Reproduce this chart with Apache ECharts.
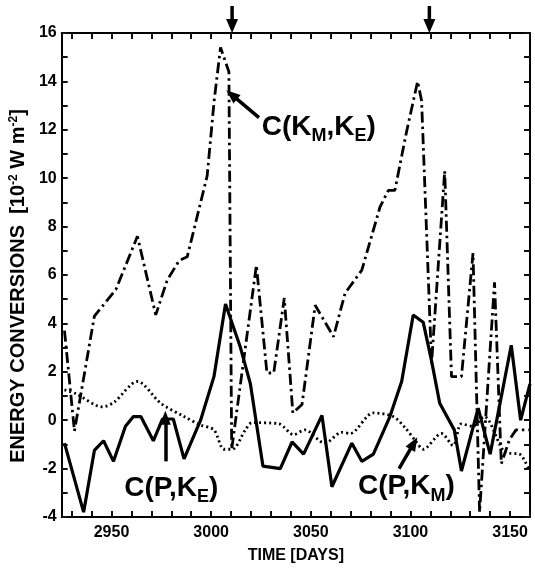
<!DOCTYPE html>
<html>
<head>
<meta charset="utf-8">
<script src="https://cdn.jsdelivr.net/npm/echarts@6/dist/echarts.min.js"></script>
<style>
  html, body { margin: 0; padding: 0; background: #fff; }
  #chart { width: 535px; height: 569px; }
</style>
</head>
<body>
<div id="chart"></div>
<script>
// C(K_M,K_E) - dash-dot curve
var kmkeDays = [2926.4, 2931.4, 2941.4, 2952.2, 2963, 2972.2, 2978, 2984, 2988, 2998, 3001.5, 3004.7, 3008.9, 3010.3,
  3022.7, 3028, 3031.4, 3036.7, 3041, 3045.6, 3052.2, 3061.4, 3067.2, 3075.6, 3084.7, 3088.9, 3092.2, 3098, 3103.6,
  3105.6, 3110.6, 3117.2, 3120.6, 3125.6, 3131.4, 3134.7, 3142.2, 3145.6, 3149.7, 3153, 3159.7];
var kmkeVals = [3.7, -0.45, 4.3, 5.4, 7.6, 4.35, 5.8, 6.6, 6.75, 10.1, 13.2, 15.4, 14.4, -1.2,
  6.4, 1.95, 1.95, 5.05, 0.3, 0.65, 4.75, 3.45, 5.25, 6.2, 8.8, 9.5, 9.5, 11.9, 14.0,
  13.2, 2.35, 10.3, 1.8, 1.8, 6.9, -3.8, 5.7, -1.8, -0.8, -0.4, -0.4];

// C(P,K_E) - solid curve
var pkeDays = [2926.4, 2936, 2941.4, 2946, 2951, 2957, 2961, 2964.7, 2971, 2975.6, 2981, 2986.4, 2994.7, 3001.4,
  3007.2, 3014.7, 3019.7, 3026, 3034.7, 3040.6, 3046.4, 3055.6, 3060.6, 3070.6, 3075.6, 3081.4, 3089.7, 3095.6,
  3101.4, 3106.4, 3110.6, 3114.7, 3122, 3125.6, 3134, 3140, 3150.6, 3155.3, 3160];
var pkeVals = [-0.95, -3.8, -1.25, -0.85, -1.7, -0.25, 0.15, 0.15, -0.85, 0.05, 0.05, -1.6, 0, 1.8,
  4.8, 3.0, 1.5, -1.9, -2.0, -0.9, -1.4, 0.2, -2.75, -0.95, -1.7, -1.4, 0.15, 1.6,
  4.35, 4.05, 2.45, 0.7, -0.4, -2.1, 0.5, -1.4, 3.1, 0, 1.5];

// C(P,K_M) - dotted curve
var pkmDays = [2926.4, 2932, 2945.6, 2951.4, 2963, 2974.7, 2986.4, 2994.7, 3001.4, 3006.4, 3010.6, 3017.2, 3020.6,
  3034, 3041.4, 3047, 3057, 3065.6, 3069.7, 3081.4, 3091.4, 3097.2, 3103, 3106.4, 3115.6, 3121.4, 3125.6,
  3131.4, 3137, 3148, 3154.7, 3159.7];
var pkmVals = [1.25, 1.1, 0.55, 0.75, 1.6, 0.7, 0.15, -0.2, -0.4, -1.2, -1.2, -0.4, -0.1,
  -0.15, -0.6, -0.4, -0.95, -0.5, -0.55, 0.3, 0.15, -0.3, -0.9, -1.2, -0.55, -1.05, -0.15,
  -0.25, 0.15, -1.35, -1.4, -2.1];

// axis ticks / labels
var xTickDays = [2930, 2940, 2950, 2960, 2970, 2980, 2990, 3000, 3010, 3020, 3030, 3040, 3050, 3060, 3070,
  3080, 3090, 3100, 3110, 3120, 3130, 3140, 3150, 3160];
var xLabelDays = [2950, 3000, 3050, 3100, 3150];
var arrowDays = [3010.5, 3109.5];

function pairs(xs, ys) {
  var out = [];
  for (var i = 0; i < xs.length; i++) out.push([xs[i], ys[i]]);
  return out;
}

var FONT = '"Liberation Sans", Arial, sans-serif';
var labelRich = {
  sub: { fontSize: 18, fontWeight: 'bold', fontFamily: FONT, color: '#000', verticalAlign: 'bottom', padding: [0, 0, -4, 0] }
};
function noteLabel(text) {
  return {
    show: true, position: 'inside', formatter: text,
    fontSize: 28, fontWeight: 'bold', fontFamily: FONT, color: '#000', rich: labelRich
  };
}
function arrowLine(from, to) {
  return {
    silent: true, animation: false,
    symbol: ['none', 'triangle'], symbolSize: [11, 14],
    label: { show: false },
    lineStyle: { type: 'solid', color: '#000', width: 3.5 },
    data: [[{ coord: from }, { coord: to }]]
  };
}
function notePoint(coord, text) {
  return {
    silent: true, animation: false,
    symbol: 'circle', symbolSize: 1, itemStyle: { color: 'rgba(0,0,0,0)' },
    label: noteLabel(text),
    data: [{ coord: coord }]
  };
}

function axisLine() {
  return { show: true, onZero: false, lineStyle: { color: '#000', width: 2 } };
}
// plain '#000' ticks did not show up, a near-black does
function tickStyle(extra) {
  var t = { show: true, inside: true, length: 6, lineStyle: { color: '#111111', width: 2 } };
  return Object.assign(t, extra || {});
}
function labelFont(extra) {
  var f = { color: '#000', fontSize: 16, fontWeight: 'bold', fontFamily: FONT };
  return Object.assign(f, extra || {});
}

var chart = echarts.init(document.getElementById('chart'));
var option = {
  animation: false,
  backgroundColor: '#fff',
  grid: { left: 61, right: 5, top: 33, bottom: 52 },
  xAxis: [
    {
      type: 'value', position: 'bottom', min: 2925, max: 3160,
      axisLine: axisLine(),
      axisTick: tickStyle({ customValues: xTickDays }),
      axisLabel: labelFont({ customValues: xLabelDays, margin: 8, formatter: function (v) { return String(v); } }),
      splitLine: { show: false },
      name: 'TIME [DAYS]', nameLocation: 'middle', nameGap: 31,
      nameTextStyle: { color: '#000', fontSize: 16, fontWeight: 'bold', fontFamily: FONT }
    },
    {
      type: 'value', position: 'top', min: 2925, max: 3160,
      axisLine: axisLine(),
      axisTick: tickStyle({ customValues: xTickDays }),
      axisLabel: { show: false },
      splitLine: { show: false }
    }
  ],
  yAxis: [
    {
      type: 'value', position: 'left', min: -4, max: 16, interval: 1,
      axisLine: axisLine(),
      axisTick: tickStyle(),
      axisLabel: labelFont({
        margin: 5,
        formatter: function (v) { return v % 2 === 0 ? String(v) : ''; }
      }),
      splitLine: { show: false },
      name: 'ENERGY CONVERSIONS  [10{sup|-2} W m{sup|-2}]',
      nameLocation: 'middle', nameGap: 33, nameRotate: 90,
      nameTextStyle: {
        color: '#000', fontSize: 20, fontWeight: 'bold', fontFamily: FONT, padding: [0, 22, 0, 0],
        rich: { sup: { fontSize: 12, fontWeight: 'bold', fontFamily: FONT, color: '#000', verticalAlign: 'top' } }
      }
    },
    {
      type: 'value', position: 'right', min: -4, max: 16, interval: 1,
      axisLine: axisLine(),
      axisTick: tickStyle(),
      axisLabel: { show: false },
      splitLine: { show: false }
    }
  ],
  series: [
    {
      name: 'C(KM,KE)', type: 'line',
      data: pairs(kmkeDays, kmkeVals), showSymbol: false,
      lineStyle: { color: '#000', width: 2.8, type: [11, 4, 2.5, 4], cap: 'butt' },
      markPoint: notePoint([3054, 12.1], 'C(K{sub|M},K{sub|E})'),
      markLine: arrowLine([3024, 12.5], [3010.3, 13.45])
    },
    {
      name: 'C(P,KE)', type: 'line',
      data: pairs(pkeDays, pkeVals), showSymbol: false,
      lineStyle: { color: '#000', width: 3.2 },
      markPoint: notePoint([2980, -2.8], 'C(P,K{sub|E})'),
      markLine: arrowLine([2977, -1.7], [2977, 0.1])
    },
    {
      name: 'C(P,KM)', type: 'line',
      data: pairs(pkmDays, pkmVals), showSymbol: false, smooth: 0.3,
      lineStyle: { color: '#000', width: 2.8, type: [2, 3], cap: 'butt' },
      markPoint: notePoint([3098, -2.75], 'C(P,K{sub|M})'),
      markLine: arrowLine([3094.3, -2.0], [3101.7, -0.95])
    }
  ]
};
chart.setOption(option);

// event arrows above the frame, placed through the x scale
var topY = chart.convertToPixel({ yAxisIndex: 0 }, 16);
var arrows = arrowDays.map(function (d) {
  var x = chart.convertToPixel({ xAxisIndex: 0 }, d);
  return {
    type: 'group', silent: true,
    children: [
      { type: 'line', shape: { x1: x, y1: topY - 27, x2: x, y2: topY - 10 }, style: { stroke: '#000', lineWidth: 3.5 } },
      { type: 'polygon', shape: { points: [[x - 6, topY - 14], [x + 6, topY - 14], [x, topY]] }, style: { fill: '#000' } }
    ]
  };
});
chart.setOption({ graphic: arrows });
</script>
</body>
</html>
